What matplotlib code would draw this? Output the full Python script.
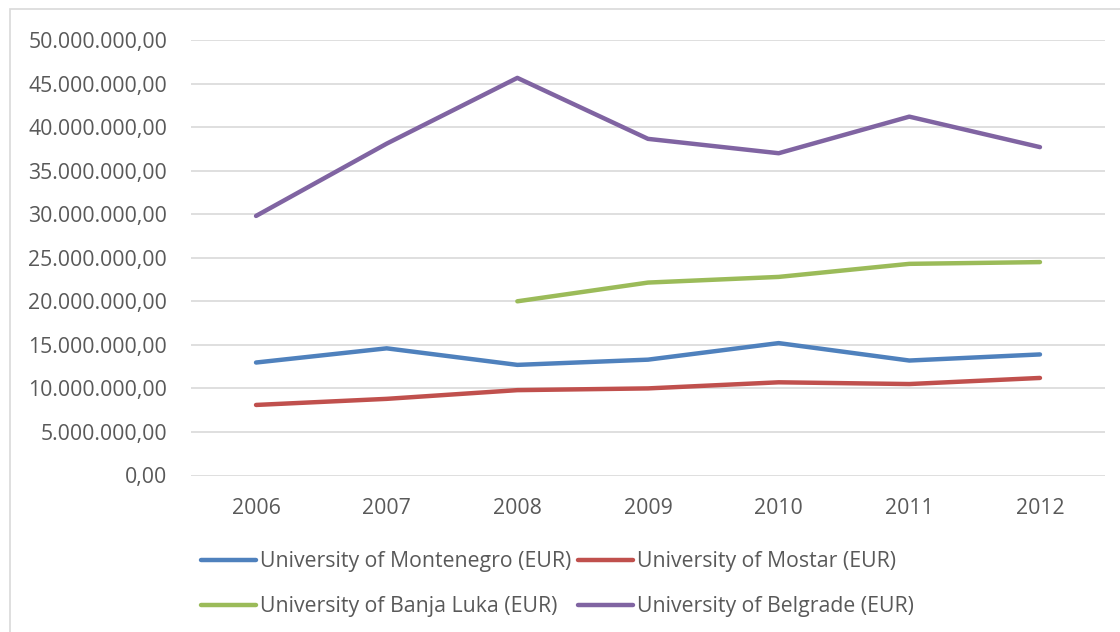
import matplotlib.pyplot as plt
from matplotlib.patches import Rectangle
from matplotlib.ticker import FuncFormatter

years = ['2006', '2007', '2008', '2009', '2010', '2011', '2012']

# values in EUR
montenegro = [12.97e6, 14.6e6, 12.7e6, 13.3e6, 15.2e6, 13.2e6, 13.9e6]
mostar = [8.1e6, 8.8e6, 9.8e6, 10.0e6, 10.7e6, 10.5e6, 11.2e6]
banja_luka = [None, None, 20.0e6, 22.15e6, 22.8e6, 24.3e6, 24.5e6]
belgrade = [29.8e6, 38.1e6, 45.65e6, 38.65e6, 37.0e6, 41.2e6, 37.7e6]

series = [
    ('University of Montenegro (EUR)', montenegro, '#4F81BD'),
    ('University of Banja Luka (EUR)', banja_luka, '#9BBB59'),
    ('University of Mostar (EUR)', mostar, '#C0504D'),
    ('University of Belgrade (EUR)', belgrade, '#8064A2'),
]

plt.rcParams['font.family'] = ['Open Sans', 'DejaVu Sans']
txt = '#595959'
fs = 15.3

fig = plt.figure(figsize=(11.2, 6.32), dpi=100)
ax = fig.add_axes([190.7 / 1120, 1 - 475.5 / 632, (1105.3 - 190.7) / 1120, (475.5 - 40) / 632])

# chart area border
fig.patches.append(Rectangle((10 / 1120, -0.1), 1.2, 1 - 9 / 632 + 0.1, transform=fig.transFigure,
                             fill=False, edgecolor='#d9d9d9', linewidth=1.2))

x = list(range(len(years)))
for name, vals, col in series:
    xs = [i for i, v in zip(x, vals) if v is not None]
    ys = [v for v in vals if v is not None]
    ax.plot(xs, ys, color=col, linewidth=3.2, solid_capstyle='round', solid_joinstyle='round', label=name)

ax.set_xlim(-0.5, 6.5)
ax.set_ylim(0, 50e6)
ax.set_yticks([i * 5e6 for i in range(11)])
ax.yaxis.set_major_formatter(FuncFormatter(
    lambda v, p: f'{v:,.2f}'.replace(',', 'X').replace('.', ',').replace('X', '.')))
ax.set_xticks(x)
ax.set_xticklabels(years)
ax.tick_params(axis='both', length=0, labelsize=fs, colors=txt)
ax.tick_params(axis='y', pad=17)
ax.tick_params(axis='x', pad=16.5)
ax.grid(axis='y', color='#d9d9d9', linewidth=1.2)
ax.set_axisbelow(True)
for s in ax.spines.values():
    s.set_visible(False)

leg = fig.legend(loc='upper left', bbox_to_anchor=(201 / 1120, 1 - 551 / 632), ncol=2, frameon=False,
                 fontsize=fs, handlelength=2.6, handletextpad=0.19, columnspacing=0.3,
                 labelspacing=1.13, borderaxespad=0, borderpad=0)
for t in leg.get_texts():
    t.set_color(txt)

fig.savefig('out.png', dpi=100)
